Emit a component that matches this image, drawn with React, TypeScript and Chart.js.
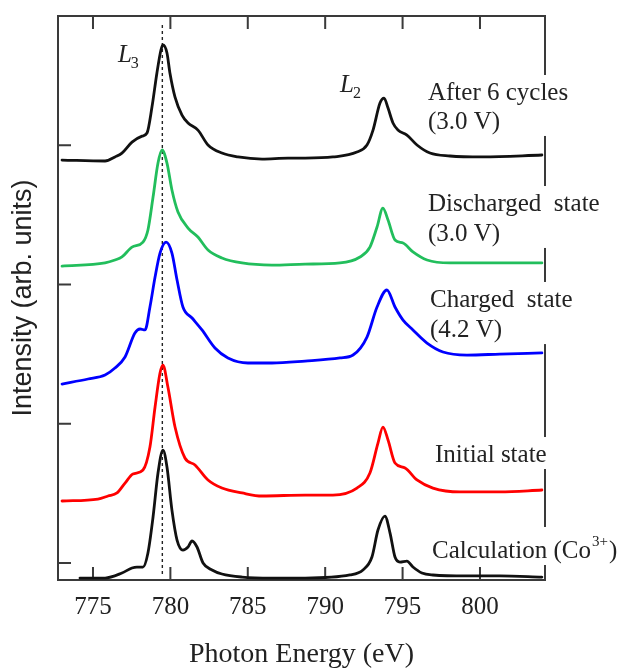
import { useEffect, useRef } from 'react';
import { Chart, registerables } from 'chart.js';

Chart.register(...registerables);

// Axis ranges: photon energy (eV) and stacked intensity (arb. units)
const X_MIN = 772.74;
const X_MAX = 804.2;
const Y_MIN = -0.122;
const Y_MAX = 3.927;
const X_TICKS = [775, 780, 785, 790, 795, 800];
const Y_TICKS = [0, 1, 2, 3];
const L3_ENERGY = 779.48;

// After 6 cycles (3.0 V)
const cyclesE = [773.0, 775.78, 776.42, 776.87, 777.52, 778.17, 778.49, 778.81, 779.13, 779.39, 779.52, 779.78, 779.97, 780.3, 780.75, 781.14, 781.78, 782.43, 783.33, 784.37, 785.92, 787.6, 788.7, 790.5, 792.05, 792.7, 793.09, 793.54, 793.8, 794.06, 794.38, 794.7, 795.28, 795.93, 796.77, 798.06, 800.19, 804.0];
const cyclesI = [2.893, 2.886, 2.915, 2.943, 3.022, 3.065, 3.087, 3.273, 3.518, 3.683, 3.719, 3.661, 3.518, 3.345, 3.216, 3.159, 3.108, 3.001, 2.943, 2.915, 2.9, 2.907, 2.907, 2.915, 2.95, 3.001, 3.108, 3.302, 3.338, 3.266, 3.159, 3.108, 3.072, 3.001, 2.943, 2.922, 2.915, 2.929];

// Discharged state (3.0 V)
const dischE = [773.0, 775.78, 776.42, 776.87, 777.52, 778.23, 778.55, 778.88, 779.2, 779.46, 779.78, 780.1, 780.49, 781.14, 781.78, 782.43, 783.33, 784.63, 786.56, 788.7, 790.96, 792.25, 792.89, 793.35, 793.73, 794.06, 794.51, 795.03, 795.67, 796.58, 798.06, 804.0];
const dischI = [2.132, 2.154, 2.175, 2.197, 2.268, 2.304, 2.391, 2.627, 2.871, 2.965, 2.871, 2.678, 2.52, 2.405, 2.34, 2.247, 2.19, 2.154, 2.139, 2.146, 2.154, 2.197, 2.268, 2.412, 2.548, 2.462, 2.319, 2.297, 2.233, 2.175, 2.154, 2.154];

// Charged state (4.2 V)
const chargE = [773.0, 774.68, 775.78, 776.42, 777.07, 777.71, 778.04, 778.36, 778.68, 779.01, 779.33, 779.72, 780.1, 780.43, 780.81, 781.4, 782.04, 782.88, 783.72, 785.01, 786.56, 788.7, 790.96, 791.8, 792.7, 793.35, 793.99, 794.51, 795.03, 795.67, 796.58, 797.61, 799.16, 801.29, 804.0];
const chargI = [1.285, 1.321, 1.35, 1.4, 1.479, 1.651, 1.68, 1.673, 1.838, 2.053, 2.225, 2.304, 2.225, 2.032, 1.838, 1.759, 1.673, 1.543, 1.472, 1.436, 1.436, 1.45, 1.472, 1.493, 1.622, 1.838, 1.96, 1.838, 1.744, 1.673, 1.579, 1.515, 1.493, 1.5, 1.508];

// Initial state
const initE = [773.0, 775.32, 775.97, 776.55, 777.07, 777.58, 778.23, 778.68, 779.01, 779.33, 779.52, 779.84, 780.3, 780.94, 781.59, 782.43, 783.33, 784.63, 785.92, 788.7, 790.5, 792.05, 792.89, 793.41, 793.73, 794.06, 794.51, 795.16, 795.93, 796.96, 798.71, 801.29, 804.0];
const initI = [0.445, 0.459, 0.481, 0.503, 0.574, 0.639, 0.668, 0.833, 1.12, 1.364, 1.421, 1.263, 0.976, 0.754, 0.704, 0.596, 0.538, 0.503, 0.481, 0.488, 0.488, 0.538, 0.646, 0.861, 0.976, 0.883, 0.718, 0.682, 0.596, 0.538, 0.51, 0.51, 0.524];

// Calculation (Co3+)
const calcE = [774.16, 775.78, 776.87, 777.52, 777.84, 778.23, 778.55, 778.88, 779.2, 779.52, 779.78, 780.1, 780.43, 780.81, 781.14, 781.4, 781.72, 782.11, 782.69, 783.33, 784.63, 786.56, 788.7, 791.6, 792.44, 793.02, 793.41, 793.86, 794.19, 794.51, 794.83, 795.28, 795.67, 796.25, 796.96, 799.16, 801.29, 804.0];
const calcI = [-0.108, -0.108, -0.072, -0.036, -0.029, -0.029, 0.072, 0.33, 0.646, 0.811, 0.689, 0.38, 0.165, 0.093, 0.115, 0.158, 0.115, 0.0, -0.05, -0.079, -0.101, -0.108, -0.108, -0.086, -0.05, 0.043, 0.237, 0.337, 0.215, 0.043, 0.007, 0.014, -0.029, -0.072, -0.086, -0.093, -0.093, -0.101];

const SERIF = "'Liberation Serif', 'Times New Roman', serif";
const SANS = "'Liberation Sans', Arial, sans-serif";
const FRAME = '#3a3a3a';
const TEXT = '#222222';

// Curve captions, anchored in data coordinates (left x, one baseline per line)
const CAPTIONS = [
  { lines: ['After 6 cycles', '(3.0 V)'], x: 796.64, y: [3.324, 3.116] },
  { lines: ['Discharged  state', '(3.0 V)'], x: 796.64, y: [2.527, 2.312] },
  { lines: ['Charged  state', '(4.2 V)'], x: 796.77, y: [1.838, 1.622] },
  { lines: ['Initial state'], x: 797.09, y: [0.725] },
  { lines: ['Calculation (Co'], x: 796.9, y: [0.036], sup: '3+', tail: ')' },
];

// Edge labels
const EDGES = [
  { main: 'L', sub: '3', x: 776.61, y: 3.597 },
  { main: 'L', sub: '2', x: 790.96, y: 3.381 },
];

const toPoints = (e: number[], v: number[]) => e.map((x, i) => ({ x, y: v[i] }));

const frameAndMarks = {
  id: 'frameAndMarks',
  beforeDatasetsDraw(chart: any) {
    const { ctx, chartArea } = chart;
    const { left, right, top, bottom } = chartArea;
    const xs = chart.scales.x;
    const ys = chart.scales.y;
    ctx.save();
    ctx.strokeStyle = FRAME;
    ctx.lineWidth = 2;
    ctx.strokeRect(left, top, right - left, bottom - top);
    ctx.beginPath();
    for (const v of X_TICKS) {
      const px = xs.getPixelForValue(v);
      ctx.moveTo(px, top);
      ctx.lineTo(px, top + 13);
      ctx.moveTo(px, bottom);
      ctx.lineTo(px, bottom - 13);
    }
    for (const v of Y_TICKS) {
      const py = ys.getPixelForValue(v);
      ctx.moveTo(left, py);
      ctx.lineTo(left + 13, py);
    }
    ctx.stroke();
    // L3 reference line
    const lx = xs.getPixelForValue(L3_ENERGY);
    ctx.strokeStyle = '#222';
    ctx.lineWidth = 1.4;
    ctx.setLineDash([3, 3]);
    ctx.beginPath();
    ctx.moveTo(lx, top + 9);
    ctx.lineTo(lx, bottom - 3);
    ctx.stroke();
    ctx.restore();
  },
  afterDatasetsDraw(chart: any) {
    const { ctx, chartArea } = chart;
    const xs = chart.scales.x;
    const ys = chart.scales.y;
    ctx.save();
    // the right border is interrupted where each caption sits
    for (const c of CAPTIONS) {
      const y0 = ys.getPixelForValue(c.y[0]) - (c.sup ? 31 : 25);
      const y1 = ys.getPixelForValue(c.y[c.y.length - 1]) + 7;
      ctx.fillStyle = '#ffffff';
      ctx.fillRect(chartArea.right - 4, y0, 8, y1 - y0);
    }
    ctx.fillStyle = TEXT;
    ctx.textBaseline = 'alphabetic';
    ctx.textAlign = 'left';
    for (const c of CAPTIONS) {
      const px = xs.getPixelForValue(c.x);
      c.lines.forEach((t, i) => {
        const py = ys.getPixelForValue(c.y[i]);
        ctx.font = `25px ${SERIF}`;
        ctx.fillText(t, px, py);
        if (c.sup) {
          let w = ctx.measureText(t).width;
          ctx.font = `15px ${SERIF}`;
          ctx.fillText(c.sup, px + w + 1, py - 12);
          w += ctx.measureText(c.sup).width + 2;
          ctx.font = `25px ${SERIF}`;
          ctx.fillText(c.tail || '', px + w, py);
        }
      });
    }
    for (const e of EDGES) {
      const px = xs.getPixelForValue(e.x);
      const py = ys.getPixelForValue(e.y);
      ctx.font = `italic 25px ${SERIF}`;
      ctx.fillText(e.main, px, py);
      const w = ctx.measureText(e.main).width;
      ctx.font = `16px ${SERIF}`;
      ctx.fillText(e.sub, px + w - 1, py + 6);
    }
    ctx.restore();
  },
};

export default function App() {
  const ref = useRef<HTMLCanvasElement | null>(null);

  useEffect(() => {
    const canvas = ref.current;
    if (!canvas) return;
    const line = (data: { x: number; y: number }[], color: string) => ({
      data,
      borderColor: color,
      borderWidth: 2.8,
      borderJoinStyle: 'round' as const,
      borderCapStyle: 'round' as const,
      pointRadius: 0,
      fill: false,
      cubicInterpolationMode: 'monotone' as const,
    });
    const chart = new Chart(canvas, {
      type: 'line',
      data: {
        datasets: [
          line(toPoints(calcE, calcI), '#111111'),
          line(toPoints(initE, initI), '#ff0000'),
          line(toPoints(chargE, chargI), '#0000ff'),
          line(toPoints(dischE, dischI), 'rgb(34,190,92)'),
          line(toPoints(cyclesE, cyclesI), '#111111'),
        ],
      },
      options: {
        animation: false,
        responsive: false,
        devicePixelRatio: 1,
        layout: { padding: { top: 16, right: 77, bottom: 0, left: 0 } },
        plugins: { legend: { display: false }, tooltip: { enabled: false } },
        scales: {
          x: {
            type: 'linear',
            min: X_MIN,
            max: X_MAX,
            grid: { display: false, drawTicks: false },
            border: { display: false },
            afterBuildTicks: (s: any) => {
              s.ticks = X_TICKS.map((value) => ({ value }));
            },
            afterFit: (s: any) => {
              s.height = 91;
            },
            ticks: {
              padding: 12,
              color: TEXT,
              font: { family: SERIF, size: 25 },
              callback: (v: any) => String(v),
            },
            title: {
              display: true,
              text: 'Photon Energy (eV)',
              color: TEXT,
              font: { family: SERIF, size: 28 },
              padding: { top: 0, bottom: 0 },
            },
          },
          y: {
            type: 'linear',
            min: Y_MIN,
            max: Y_MAX,
            grid: { display: false, drawTicks: false },
            border: { display: false },
            afterBuildTicks: (s: any) => {
              s.ticks = Y_TICKS.map((value) => ({ value }));
            },
            afterFit: (s: any) => {
              s.width = 58;
            },
            ticks: { display: false },
            title: {
              display: true,
              text: 'Intensity (arb. units)',
              color: TEXT,
              font: { family: SANS, size: 27 },
              padding: { top: 7, bottom: 0 },
            },
          },
        },
      },
      plugins: [frameAndMarks],
    });
    return () => chart.destroy();
  }, []);

  return (
    <div style={{ position: 'fixed', left: 0, top: 0, width: 622, height: 671, background: '#fff' }}>
      <canvas ref={ref} width={622} height={671} style={{ display: 'block' }} />
    </div>
  );
}
